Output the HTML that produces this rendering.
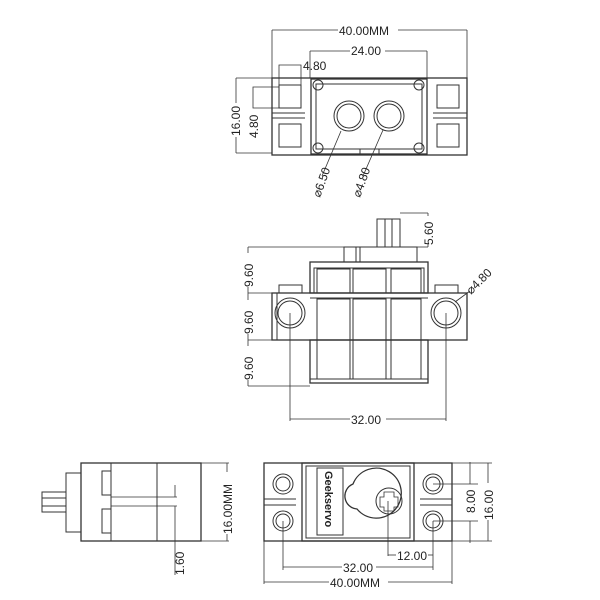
<!DOCTYPE html>
<html><head><style>
html,body{margin:0;padding:0;background:#fff;width:600px;height:600px;overflow:hidden}
svg{display:block}
text{font-family:"Liberation Sans",sans-serif;font-size:12px;fill:#222}
</style></head><body>
<svg width="600" height="600" viewBox="0 0 600 600" fill="none" stroke="#333" stroke-width="1">
<!-- TOP VIEW -->
<rect x="272" y="78" width="195" height="77" stroke-width="1.3"/>
<rect x="311" y="79" width="116" height="75" stroke-width="1.3"/>
<rect x="316" y="84" width="106" height="65"/>
<line x1="272" y1="113" x2="305" y2="113"/><line x1="272" y1="118" x2="305" y2="118"/>
<line x1="433" y1="113" x2="467" y2="113"/><line x1="433" y1="118" x2="467" y2="118"/>
<rect x="279" y="85" width="22" height="23"/><rect x="279" y="124" width="22" height="23"/>
<rect x="437" y="85" width="22" height="23"/><rect x="437" y="124" width="22" height="23"/>
<circle cx="318" cy="85" r="5"/><circle cx="419" cy="85" r="5"/>
<circle cx="318" cy="148" r="5"/><circle cx="419" cy="148" r="5"/>
<circle cx="349" cy="116" r="15"/><circle cx="349" cy="116" r="12"/>
<circle cx="389" cy="116" r="15"/><circle cx="389" cy="116" r="12"/>
<rect x="360" y="149" width="19" height="6"/>
<!-- top dims -->
<line x1="272" y1="30" x2="272" y2="78" stroke-width=".8"/><line x1="467" y1="30" x2="467" y2="78" stroke-width=".8"/>
<line x1="272" y1="30" x2="338" y2="30" stroke-width=".8"/><line x1="398" y1="30" x2="467" y2="30" stroke-width=".8"/>
<text x="339" y="35" stroke="none">40.00MM</text>
<line x1="310" y1="51" x2="310" y2="78" stroke-width=".8"/><line x1="427" y1="51" x2="427" y2="78" stroke-width=".8"/>
<line x1="310" y1="51" x2="350" y2="51" stroke-width=".8"/><line x1="385" y1="51" x2="427" y2="51" stroke-width=".8"/>
<text x="351" y="55" stroke="none">24.00</text>
<polyline points="279,108 279,65 301,65 301,108" stroke-width=".8"/>
<text x="303" y="70" stroke="none">4.80</text>
<line x1="236" y1="78" x2="236" y2="153" stroke-width=".8"/><line x1="236" y1="78" x2="272" y2="78" stroke-width=".8"/>
<line x1="236" y1="153" x2="272" y2="153" stroke-width=".8"/>
<rect x="229" y="103" width="14" height="34" fill="#fff" stroke="none"/>
<text transform="translate(240,136) rotate(-90)" stroke="none">16.00</text>
<polyline points="279,87 253,87 253,108 279,108" stroke-width=".8"/>
<rect x="247" y="110" width="14" height="28" fill="#fff" stroke="none"/>
<text transform="translate(258,138) rotate(-90)" stroke="none">4.80</text>
<line x1="341" y1="131" x2="322" y2="176" stroke-width=".8"/>
<text transform="translate(320,198) rotate(-70)" stroke="none">⌀6.50</text>
<line x1="383" y1="130" x2="363" y2="176" stroke-width=".8"/>
<text transform="translate(360,198) rotate(-70)" stroke="none">⌀4.80</text>

<!-- FRONT VIEW -->
<rect x="377" y="219" width="23" height="28"/>
<line x1="385" y1="219" x2="385" y2="247"/><line x1="392" y1="219" x2="392" y2="247"/>
<rect x="344" y="247" width="73" height="15"/>
<line x1="356" y1="247" x2="356" y2="262"/><line x1="360" y1="247" x2="360" y2="262"/>
<rect x="310" y="262" width="118" height="31" stroke-width="1.3"/>
<rect x="314" y="268" width="110" height="25"/>
<rect x="272" y="293" width="195" height="47" stroke-width="1.3"/>
<line x1="277" y1="293" x2="277" y2="340"/>
<rect x="279" y="285" width="23" height="8"/><rect x="435" y="285" width="23" height="8"/>
<rect x="310" y="340" width="118" height="43" stroke-width="1.3"/>
<rect x="317" y="269" width="33" height="24"/><rect x="353" y="269" width="33" height="24"/><rect x="391" y="269" width="30" height="24"/>
<rect x="317" y="299" width="33" height="80"/><rect x="353" y="299" width="33" height="80"/><rect x="391" y="299" width="30" height="80"/>
<line x1="310" y1="298" x2="428" y2="298"/><line x1="310" y1="379" x2="428" y2="379"/>
<circle cx="290" cy="313" r="15"/><circle cx="290" cy="313" r="12"/>
<circle cx="446" cy="313" r="15"/><circle cx="446" cy="313" r="12"/>
<!-- front dims -->
<line x1="248" y1="247" x2="344" y2="247" stroke-width=".8"/>
<line x1="248" y1="293" x2="272" y2="293" stroke-width=".8"/>
<line x1="248" y1="340" x2="310" y2="340" stroke-width=".8"/>
<line x1="248" y1="386" x2="310" y2="386" stroke-width=".8"/>
<line x1="248" y1="247" x2="248" y2="386" stroke-width=".8"/>
<rect x="238" y="253" width="18" height="34" fill="#fff" stroke="none"/>
<rect x="238" y="300" width="18" height="34" fill="#fff" stroke="none"/>
<rect x="238" y="346" width="18" height="34" fill="#fff" stroke="none"/>
<text transform="translate(253,287) rotate(-90)" stroke="none">9.60</text>
<text transform="translate(253,334) rotate(-90)" stroke="none">9.60</text>
<text transform="translate(253,380) rotate(-90)" stroke="none">9.60</text>
<line x1="400" y1="213" x2="428" y2="213" stroke-width=".8"/>
<line x1="417" y1="247" x2="428" y2="247" stroke-width=".8"/>
<line x1="428" y1="213" x2="428" y2="247" stroke-width=".8"/>
<rect x="421" y="216" width="16" height="28" fill="#fff" stroke="none"/>
<text transform="translate(433,245) rotate(-90)" stroke="none">5.60</text>
<line x1="455" y1="302" x2="470" y2="291" stroke-width=".8"/>
<text transform="translate(471,295) rotate(-45)" stroke="none">⌀4.80</text>
<line x1="290" y1="313" x2="290" y2="421" stroke-width=".8"/>
<line x1="446" y1="313" x2="446" y2="421" stroke-width=".8"/>
<line x1="290" y1="419" x2="350" y2="419" stroke-width=".8"/><line x1="386" y1="419" x2="446" y2="419" stroke-width=".8"/>
<text x="351" y="424" stroke="none">32.00</text>

<!-- SIDE VIEW -->
<rect x="81" y="463" width="120" height="78" stroke-width="1.3"/>
<line x1="111" y1="463" x2="111" y2="541"/><line x1="157" y1="463" x2="157" y2="541"/>
<rect x="66" y="473" width="15" height="59"/>
<rect x="42" y="492" width="24" height="20"/>
<line x1="42" y1="498" x2="66" y2="498"/><line x1="42" y1="506" x2="66" y2="506"/>
<rect x="102" y="471" width="9" height="24"/><rect x="102" y="509" width="9" height="24"/>
<line x1="111" y1="497" x2="177" y2="497" stroke-width=".8"/><line x1="111" y1="506" x2="177" y2="506" stroke-width=".8"/>
<line x1="175" y1="485" x2="175" y2="497" stroke-width=".8"/><line x1="175" y1="506" x2="175" y2="575" stroke-width=".8"/>
<text transform="translate(184,575) rotate(-90)" stroke="none">1.60</text>
<line x1="201" y1="463" x2="229" y2="463" stroke-width=".8"/><line x1="201" y1="541" x2="229" y2="541" stroke-width=".8"/>
<line x1="227" y1="463" x2="227" y2="541" stroke-width=".8"/>
<rect x="220" y="472" width="16" height="62" fill="#fff" stroke="none"/>
<text transform="translate(232,534) rotate(-90)" stroke="none">16.00MM</text>

<!-- BOTTOM VIEW -->
<rect x="264" y="463" width="188" height="78" stroke-width="1.3"/>
<rect x="302" y="463" width="112" height="78" stroke-width="1.3"/>
<rect x="306" y="466" width="104" height="72"/>
<line x1="264" y1="499" x2="296" y2="499"/><line x1="264" y1="505" x2="296" y2="505"/>
<line x1="420" y1="499" x2="452" y2="499"/><line x1="420" y1="505" x2="452" y2="505"/>
<circle cx="283" cy="484" r="10"/><circle cx="283" cy="484" r="7"/>
<circle cx="283" cy="521" r="10"/><circle cx="283" cy="521" r="7"/>
<circle cx="433" cy="484" r="10"/><circle cx="433" cy="484" r="7"/>
<circle cx="433" cy="521" r="10"/><circle cx="433" cy="521" r="7"/>
<rect x="317" y="468" width="26" height="67"/>
<text transform="translate(325,471) rotate(90)" stroke="none" style="font-size:11px;font-weight:bold">Geekservo</text>
<path d="M353,484 A25,25 0 1 1 357,509 A13,13 0 0 1 353,484 Z" stroke-width="1.3"/>
<circle cx="389" cy="501" r="13"/>
<path d="M384,492 h10 v5 h4 v10 h-4 v4 h-10 v-4 h-4 v-10 h4z" stroke-width=".8"/>
<!-- bottom dims -->
<line x1="433" y1="484" x2="478" y2="484" stroke-width=".8"/><line x1="433" y1="521" x2="478" y2="521" stroke-width=".8"/>
<line x1="470" y1="462" x2="470" y2="484" stroke-width=".8"/><line x1="470" y1="521" x2="470" y2="543" stroke-width=".8"/>
<text transform="translate(475,513) rotate(-90)" stroke="none">8.00</text>
<line x1="452" y1="463" x2="492" y2="463" stroke-width=".8"/><line x1="452" y1="541" x2="492" y2="541" stroke-width=".8"/>
<line x1="488" y1="463" x2="488" y2="483" stroke-width=".8"/><line x1="488" y1="520" x2="488" y2="541" stroke-width=".8"/>
<text transform="translate(493,520) rotate(-90)" stroke="none">16.00</text>
<line x1="388" y1="501" x2="388" y2="556" stroke-width=".8"/>
<line x1="433" y1="521" x2="433" y2="570" stroke-width=".8"/>
<line x1="283" y1="521" x2="283" y2="570" stroke-width=".8"/>
<line x1="388" y1="555" x2="396" y2="555" stroke-width=".8"/><line x1="428" y1="555" x2="433" y2="555" stroke-width=".8"/>
<text x="397" y="560" stroke="none">12.00</text>
<line x1="283" y1="567" x2="342" y2="567" stroke-width=".8"/><line x1="376" y1="567" x2="433" y2="567" stroke-width=".8"/>
<text x="343" y="572" stroke="none">32.00</text>
<line x1="264" y1="541" x2="264" y2="584" stroke-width=".8"/><line x1="452" y1="541" x2="452" y2="584" stroke-width=".8"/>
<line x1="264" y1="582" x2="329" y2="582" stroke-width=".8"/><line x1="388" y1="582" x2="452" y2="582" stroke-width=".8"/>
<text x="330" y="587" stroke="none">40.00MM</text>
</svg>
</body></html>
